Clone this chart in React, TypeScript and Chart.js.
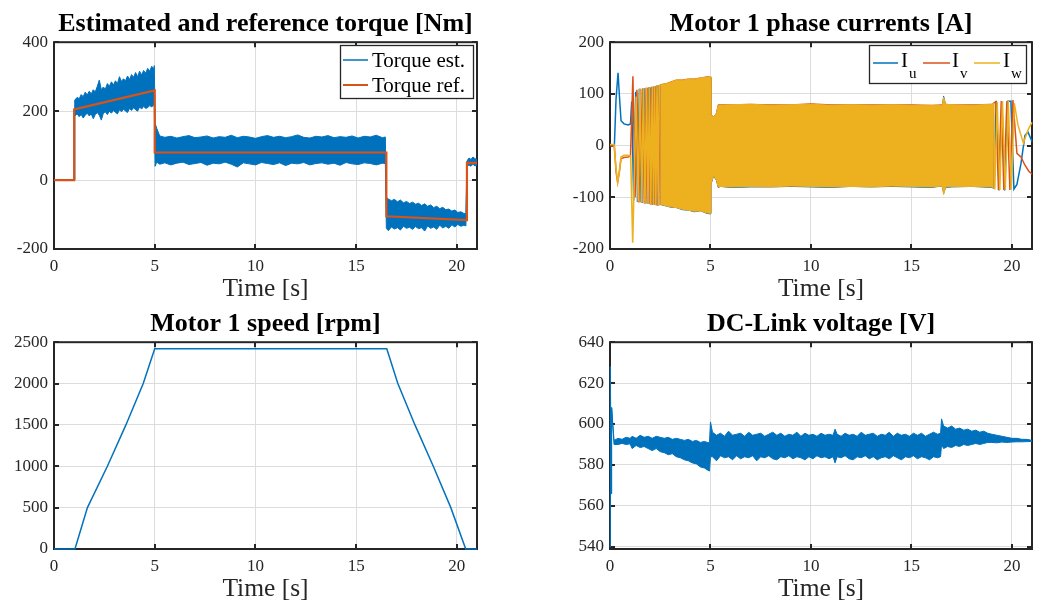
import React, { useEffect, useRef } from 'react';
import { Chart, registerables } from 'chart.js';

Chart.register(...registerables);

const FONT = "'Liberation Serif', 'Times New Roman', serif";
const BLUE = '#0072BD';
const ORANGE = '#D95319';
const YELLOW = '#EDB120';
const GRID = '#dcdcdc';
const AXIS = '#262626';

// ---------- common ----------
const xTicks = [0, 5, 10, 15, 20];
const xLabel = 'Time [s]';

// ---------- torque ----------
const torqueTitle = 'Estimated and reference torque [Nm]';
const torqueLegend = ['Torque est.', 'Torque ref.'];
const torqueTicks = [-200, 0, 200, 400];
const tTq = [0, 1.0,
  1.03, 1.15, 1.25, 1.35, 1.45, 1.55, 1.65, 1.75, 1.85, 1.95, 2.05, 2.15, 2.25, 2.35, 2.45, 2.55, 2.65, 2.75, 2.85, 2.95,
  3.05, 3.15, 3.25, 3.35, 3.45, 3.55, 3.65, 3.75, 3.85, 3.95, 4.05, 4.15, 4.25, 4.35, 4.45, 4.55, 4.65, 4.75, 4.85, 4.95, 4.98,
  5.02, 5.1, 5.25, 5.5, 5.8, 6.1, 6.4, 6.7, 7.0, 7.3, 7.6, 7.9, 8.2, 8.5, 8.8, 9.1, 9.4, 9.7, 10.0, 10.3, 10.6, 10.9,
  11.2, 11.5, 11.8, 12.1, 12.4, 12.7, 13.0, 13.3, 13.6, 13.9, 14.2, 14.5, 14.8, 15.1, 15.4, 15.7, 16.0, 16.3, 16.45,
  16.5, 16.6, 16.75, 16.9, 17.05, 17.2, 17.35, 17.5, 17.65, 17.8, 17.95, 18.1, 18.25, 18.4, 18.55, 18.7, 18.85, 19.0,
  19.15, 19.3, 19.45, 19.6, 19.75, 19.9, 20.05, 20.2, 20.35, 20.45,
  20.5, 20.6, 20.7, 20.8, 20.9, 21];
const tqEstUpper = [0, 0,
  232, 240, 236, 248, 242, 255, 247, 258, 250, 262, 256, 272, 290, 262, 270, 264, 280, 272, 285, 276,
  288, 280, 300, 286, 294, 288, 302, 292, 306, 298, 312, 300, 316, 305, 318, 310, 324, 316, 330, 322, 332,
  165, 150, 128, 124, 127, 122, 126, 129, 123, 125, 128, 122, 126, 124, 130, 123, 127, 125, 121, 126,
  129, 124, 127, 123, 126, 131, 124, 122, 127, 125, 129, 123, 126, 124, 128, 122, 127, 125, 130, 123, 125,
  -50, -55, -60, -56, -63, -58, -66, -62, -68, -64, -70, -67, -74, -69, -76, -72, -80, -76,
  -83, -79, -86, -84, -90, -87, -94, -92, -97, -98,
  55, 64, 60, 67, 62, 60];
const tqEstLower = [0, 0,
  186, 192, 184, 190, 180, 188, 194, 186, 192, 178, 190, 196, 188, 174, 194, 198, 190, 200, 194, 202,
  196, 192, 204, 198, 206, 200, 196, 208, 202, 210, 204, 200, 212, 206, 214, 208, 210, 216, 212, 218, 215,
  40, 52, 46, 50, 44, 49, 52, 45, 48, 51, 43, 49, 47, 52, 46, 38, 50, 47, 44, 51,
  48, 45, 50, 42, 49, 47, 51, 44, 48, 50, 46, 49, 43, 51, 47, 45, 50, 48, 44, 49, 48,
  -140, -147, -136, -142, -138, -145, -134, -140, -137, -143, -135, -141, -138, -148, -133, -140, -136, -143,
  -131, -139, -134, -140, -130, -136, -129, -134, -131, -133,
  38, 44, 40, 46, 41, 43];
const tRef = [0, 1.0, 1.0, 5.0, 5.0, 16.5, 16.5, 20.5, 20.5, 21];
const tqRef = [0, 0, 205, 260, 80, 80, -105, -116, 50, 50];

// ---------- phase currents ----------
const currentTitle = 'Motor 1 phase currents [A]';
const currentLegend = [['I', 'u'], ['I', 'v'], ['I', 'w']];
const currentTicks = [-200, -100, 0, 100, 200];
const tCur = [2.5, 2.8, 3.0, 3.3, 3.6, 3.9, 4.2, 4.5, 4.8, 4.98, 5.02, 5.15, 5.3, 5.38, 5.5, 6, 7, 8, 9, 10, 11, 12,
  13, 14, 15, 16, 16.55, 16.6, 16.7, 17, 18, 19, 19.1];
const iwUpper = [117, 120, 122, 127, 126, 129, 128, 131, 132, 133, 60, 55, 62, 78, 78, 79, 80, 78, 79, 80, 78, 79,
  78, 79, 78, 78, 78, 94, 80, 79, 78, 80, 82];
const iwLower = [-113, -117, -118, -120, -123, -125, -127, -126, -130, -131, -75, -58, -66, -80, -79, -80, -79, -80, -78, -79, -80, -79,
  -80, -78, -79, -80, -78, -95, -80, -79, -79, -80, -82];
const ivUpper = [118, 120, 123, 127, 127, 129, 129, 131, 133, 133, 61, 55, 63, 79, 79, 79, 80, 79, 79, 81, 79, 79,
  79, 79, 79, 78, 79, 90, 80, 79, 79, 80, 83];
const ivLower = [-112, -116, -118, -119, -122, -124, -126, -126, -129, -130, -74, -57, -66, -79, -78, -79, -78, -79, -78, -78, -79, -78,
  -79, -78, -78, -79, -78, -90, -79, -78, -78, -79, -81];
const iuUpper = [116, 119, 121, 126, 125, 128, 127, 130, 131, 132, 59, 54, 61, 77, 77, 78, 79, 77, 78, 79, 77, 78,
  77, 78, 77, 77, 77, 96, 79, 78, 77, 79, 81];
const iuLower = [-114, -117, -119, -120, -124, -125, -128, -126, -131, -132, -76, -59, -67, -81, -79, -81, -80, -80, -79, -80, -81, -79,
  -80, -79, -80, -81, -78, -93, -81, -80, -79, -81, -83];

const tIuStart = [0, 0.22, 0.3, 0.4, 0.47, 0.55, 0.7, 0.9, 1.02, 1.08, 1.18, 1.28, 1.37, 1.46, 1.55, 1.64, 1.72, 1.8, 1.87,
  1.94, 2.01, 2.08, 2.14, 2.2, 2.26, 2.32, 2.38, 2.44, 2.5];
const iuStart = [0, 2, 90, 141, 95, 48, 42, 40, 42, 85, -106, 104, -109, 110, -110, 111, -112, 112, -113,
  113, -114, 114, -115, 115, -115, 116, -116, 116, 116];
const tIvStart = [0, 0.22, 0.3, 0.38, 0.47, 0.55, 0.7, 0.9, 1.02, 1.14, 1.25, 1.34, 1.44, 1.53, 1.62, 1.7, 1.78, 1.86, 1.93,
  2.0, 2.07, 2.13, 2.19, 2.25, 2.31, 2.37, 2.43, 2.48, 2.5];
const ivStart = [0, -2, -50, -71, -50, -25, -23, -22, -20, 134, -100, 108, -110, 110, -111, 111, -112, 112, -113,
  113, -114, 114, -115, 115, -116, 116, -116, 116, 117];
const tIwStart = [0, 0.2, 0.3, 0.38, 0.47, 0.55, 0.7, 0.9, 1.03, 1.13, 1.22, 1.3, 1.4, 1.49, 1.58, 1.66, 1.74, 1.82, 1.89,
  1.96, 2.03, 2.1, 2.16, 2.22, 2.28, 2.34, 2.4, 2.45, 2.5];
const iwStart = [2, 2, -45, -70, -48, -22, -19, -19, -20, -188, -40, 95, -108, 110, -110, 111, -112, 112, -113,
  113, -114, 114, -115, 115, -115, 116, -116, 116, 117];

const tIuEnd = [19.1, 19.22, 19.36, 19.5, 19.64, 19.8, 19.95, 20.1, 20.25, 20.45, 20.65, 20.8, 21];
const iuEnd = [-82, 86, -87, 86, -87, 86, 86, -84, -75, -35, 20, 26, 8];
const tIvEnd = [19.1, 19.2, 19.33, 19.47, 19.6, 19.75, 19.9, 20.05, 20.25, 20.45, 20.65, 20.85, 21];
const ivEnd = [82, 85, -86, 86, -86, 86, -86, 88, -15, -22, -38, -50, -55];
const tIwEnd = [19.1, 19.15, 19.27, 19.4, 19.53, 19.67, 19.82, 19.97, 20.12, 20.3, 20.57, 20.82, 21];
const iwEnd = [82, -85, 85, -86, 86, -86, 86, -85, 82, 40, 5, 32, 45];

// ---------- speed ----------
const speedTitle = 'Motor 1 speed [rpm]';
const speedTicks = [0, 500, 1000, 1500, 2000, 2500];
const tSpd = [0, 1.04, 1.66, 2.65, 3.57, 4.43, 5.0, 16.52, 17.07, 17.92, 18.83, 19.7, 20.44, 21];
const speed = [0, 0, 500, 1000, 1500, 2000, 2420, 2420, 2000, 1500, 1000, 500, 0, 0];

// ---------- DC link ----------
const dcTitle = 'DC-Link voltage [V]';
const dcTicks = [540, 560, 580, 600, 620, 640];
const tDc = [0, 0.02, 0.05, 0.08, 0.2,
  0.4, 0.6, 0.8, 1.0, 1.1, 1.3, 1.5, 1.7, 1.9, 2.1, 2.3, 2.5, 2.7, 2.9, 3.1, 3.3, 3.5, 3.7, 3.9, 4.1, 4.3, 4.5, 4.7, 4.85, 4.95,
  5.0, 5.1, 5.3, 5.5, 5.7, 5.9, 6.1, 6.3, 6.5, 6.7, 6.9, 7.1, 7.3, 7.5, 7.7, 7.9, 8.1, 8.3, 8.5, 8.7, 8.9, 9.1, 9.3, 9.5,
  9.7, 9.9, 10.1, 10.3, 10.5, 10.7, 10.9, 11.1, 11.2, 11.3, 11.5, 11.7, 11.9, 12.1, 12.3, 12.5, 12.7, 12.9, 13.1, 13.3,
  13.5, 13.7, 13.9, 14.1, 14.3, 14.5, 14.7, 14.9, 15.1, 15.3, 15.5, 15.7, 15.9, 16.1, 16.3, 16.45,
  16.5, 16.6, 16.8, 17.0, 17.2, 17.4, 17.6, 17.8, 18.0, 18.2, 18.4, 18.6, 18.8, 19.0, 19.25, 19.5, 19.75, 20.0, 20.25,
  20.5, 20.75, 21];
const dcUpper = [540, 628, 566, 608, 592,
  593, 592.5, 593.5, 593, 594, 593, 594.5, 593.5, 594, 593, 594, 593.5, 593, 593.5, 592.5, 593, 592.5, 592, 592.5, 591.5,
  592, 591, 591.5, 591, 591,
  601, 596, 594.5, 595.5, 594, 596.5, 594.5, 595, 595.5, 594, 596, 594.5, 595, 595.5, 594, 595, 596, 594.5, 595.5, 594,
  595, 594.5, 596, 594, 595.5, 594.5, 595, 594, 595.5, 594.5, 595, 594.5, 597.5, 595, 594, 595.5, 594.5, 595, 594, 596,
  594.5, 595, 595.5, 594, 595, 594.5, 596, 594, 595.5, 594.5, 595, 594, 595.5, 594.5, 595.5, 594, 595, 596, 595, 595.5,
  602.5, 599, 598, 599, 597.5, 598, 597, 597.5, 596.5, 597, 596, 596.5, 595.5, 595, 594.5, 594, 593.5, 593, 593,
  592.5, 592.5, 592];
const dcLower = [540, 628, 566, 608, 590,
  590, 590.5, 590, 590.3, 588, 589.5, 588.5, 589, 588, 587, 588, 586.5, 586, 585, 585.5, 584, 583.5, 582.5, 582, 581,
  580.5, 579, 578.5, 577.5, 577,
  584, 584, 582, 584.5, 583.5, 584, 582.5, 584.5, 583, 584, 583.5, 584.5, 582, 584, 583.5, 584.5, 583, 582.5, 584, 583.5,
  584.5, 583, 584, 583.5, 582.5, 584, 583, 584.5, 583.5, 584, 583, 584, 581, 584, 583.5, 584.5, 583, 582.5, 584, 583.5,
  584.5, 583, 584, 582.5, 583.5, 584, 583, 584.5, 583.5, 582.5, 584, 583.5, 584.5, 583, 584, 583.5, 582.5, 584, 583.5, 584,
  590, 588, 589, 588.5, 589.5, 589, 590, 589.5, 590, 590.5, 590, 590.5, 591, 591, 590.8, 591.2, 591, 591.2, 591.3,
  591.3, 591.4, 591.5];

// ---------- helpers ----------
const xy = (t: number[], v: number[]) => t.map((x, i) => ({ x, y: v[i] }));

function ds(label: string, data: any[], color: string, width: number, fill: any = false) {
  return {
    label,
    data,
    borderColor: color,
    backgroundColor: color,
    borderWidth: width,
    pointRadius: 0,
    pointHoverRadius: 0,
    tension: 0,
    fill,
    clip: false as any,
  };
}

function xScale() {
  return {
    type: 'linear' as const,
    min: 0,
    max: 21,
    afterBuildTicks: (s: any) => { s.ticks = xTicks.map((value) => ({ value })); },
    afterFit: (s: any) => { s.height = 56; },
    ticks: {
      autoSkip: false, maxRotation: 0, padding: 7, color: AXIS,
      font: { family: FONT, size: 17 },
      callback: (v: any) => String(v),
    },
    grid: { color: GRID, lineWidth: 1, drawTicks: false },
    border: { display: false },
    title: { display: true, text: xLabel, color: AXIS, font: { family: FONT, size: 25.5 }, padding: { top: 0, bottom: 0 } },
  };
}

function yScale(min: number, max: number, ticks: number[], width: number) {
  return {
    type: 'linear' as const,
    min,
    max,
    afterBuildTicks: (s: any) => { s.ticks = ticks.map((value) => ({ value })); },
    afterFit: (s: any) => { s.width = width; },
    ticks: {
      autoSkip: false, padding: 6, color: AXIS,
      font: { family: FONT, size: 17 },
      callback: (v: any) => String(v),
    },
    grid: { color: GRID, lineWidth: 1, drawTicks: false },
    border: { display: false },
  };
}

const framePlugin = {
  id: 'mframe',
  beforeDatasetsDraw(chart: any) {
    const { ctx, chartArea: a, scales } = chart;
    ctx.save();
    ctx.strokeStyle = AXIS;
    ctx.lineWidth = 2;
    const tl = 5;
    ctx.beginPath();
    scales.x.ticks.forEach((t: any) => {
      const p = Math.round(scales.x.getPixelForValue(t.value));
      ctx.moveTo(p, a.bottom); ctx.lineTo(p, a.bottom - tl);
      ctx.moveTo(p, a.top); ctx.lineTo(p, a.top + tl);
    });
    scales.y.ticks.forEach((t: any) => {
      const p = Math.round(scales.y.getPixelForValue(t.value));
      ctx.moveTo(a.left, p); ctx.lineTo(a.left + tl, p);
      ctx.moveTo(a.right, p); ctx.lineTo(a.right - tl, p);
    });
    ctx.stroke();
    ctx.strokeRect(a.left, a.top, a.right - a.left, a.bottom - a.top);
    ctx.restore();
  },
  afterDraw(chart: any, _args: any, opts: any) {
    const lg = opts && opts.legend;
    if (!lg) return;
    const { ctx, chartArea: a } = chart;
    ctx.save();
    const x0 = Math.round(a.right - lg.right - lg.w);
    const y0 = Math.round(a.top + lg.top);
    ctx.fillStyle = '#ffffff';
    ctx.fillRect(x0, y0, lg.w, lg.h);
    ctx.strokeStyle = AXIS;
    ctx.lineWidth = 1.3;
    ctx.strokeRect(x0 + 0.5, y0 + 0.5, lg.w, lg.h);
    lg.items.forEach((it: any) => {
      ctx.strokeStyle = it.color;
      ctx.lineWidth = it.lw;
      ctx.beginPath();
      ctx.moveTo(x0 + it.lx, y0 + it.ly);
      ctx.lineTo(x0 + it.lx + it.ll, y0 + it.ly);
      ctx.stroke();
      ctx.fillStyle = '#000000';
      ctx.textAlign = 'left';
      ctx.textBaseline = 'alphabetic';
      ctx.font = `21px ${FONT}`;
      ctx.fillText(it.text, x0 + it.tx, y0 + it.ty);
      if (it.sub) {
        ctx.font = `15px ${FONT}`;
        ctx.fillText(it.sub, x0 + it.sx, y0 + it.sy);
      }
    });
    ctx.restore();
  },
};

function baseOptions(title: string, yMin: number, yMax: number, yTicks: number[], yWidth: number, padRight: number, legend: any) {
  return {
    responsive: false,
    animation: false as const,
    devicePixelRatio: 1,
    layout: { padding: { left: 0, right: padRight, top: 0, bottom: 0 } },
    scales: { x: xScale(), y: yScale(yMin, yMax, yTicks, yWidth) },
    plugins: {
      legend: { display: false },
      tooltip: { enabled: false },
      title: {
        display: true, text: title, fullSize: false, color: '#000000',
        font: { family: FONT, size: 26, weight: 'bold' as const },
        padding: { top: 9, bottom: 2 },
      },
      mframe: { legend },
    },
  };
}

function torqueConfig(): any {
  return {
    type: 'line',
    data: {
      datasets: [
        ds(torqueLegend[1], xy(tRef, tqRef), ORANGE, 2.2),
        ds(torqueLegend[0], xy(tTq, tqEstUpper), BLUE, 1),
        ds(torqueLegend[0] + ' lower', xy(tTq, tqEstLower), BLUE, 1, '-1'),
      ],
    },
    options: baseOptions(torqueTitle, -200, 400, torqueTicks, 54, 43, {
      right: 4, top: 3, w: 133, h: 53,
      items: [
        { color: BLUE, lw: 1.5, lx: 3, ly: 15, ll: 25, text: torqueLegend[0], tx: 32, ty: 21.5 },
        { color: ORANGE, lw: 2, lx: 3, ly: 40, ll: 25, text: torqueLegend[1], tx: 32, ty: 46.5 },
      ],
    }),
    plugins: [framePlugin],
  };
}

function currentConfig(): any {
  return {
    type: 'line',
    data: {
      datasets: [
        ds('Iw', xy(tCur, iwUpper), YELLOW, 1),
        ds('Iw lower', xy(tCur, iwLower), YELLOW, 1, '-1'),
        ds('Iw start', xy(tIwStart, iwStart), YELLOW, 1.6),
        ds('Iw end', xy(tIwEnd, iwEnd), YELLOW, 1.5),
        ds('Iv', xy(tCur, ivUpper), ORANGE, 1),
        ds('Iv lower', xy(tCur, ivLower), ORANGE, 1, '-1'),
        ds('Iv start', xy(tIvStart, ivStart), ORANGE, 1.5),
        ds('Iv end', xy(tIvEnd, ivEnd), ORANGE, 1.5),
        ds('Iu', xy(tCur, iuUpper), BLUE, 1),
        ds('Iu lower', xy(tCur, iuLower), BLUE, 1, '-1'),
        ds('Iu start', xy(tIuStart, iuStart), BLUE, 1.5),
        ds('Iu end', xy(tIuEnd, iuEnd), BLUE, 1.5),
      ],
    },
    options: baseOptions(currentTitle, -200, 200, currentTicks, 90, 8, {
      right: 6, top: 3, w: 157, h: 38,
      items: [
        { color: BLUE, lw: 1.5, lx: 4, ly: 18, ll: 25, text: currentLegend[0][0], sub: currentLegend[0][1], tx: 32, ty: 22, sx: 40, sy: 33 },
        { color: ORANGE, lw: 1.5, lx: 54, ly: 18, ll: 27, text: currentLegend[1][0], sub: currentLegend[1][1], tx: 83, ty: 22, sx: 91, sy: 33 },
        { color: YELLOW, lw: 1.5, lx: 105, ly: 18, ll: 26, text: currentLegend[2][0], sub: currentLegend[2][1], tx: 134, ty: 22, sx: 142, sy: 33 },
      ],
    }),
    plugins: [framePlugin],
  };
}

function speedConfig(): any {
  return {
    type: 'line',
    data: { datasets: [ds('Speed', xy(tSpd, speed), BLUE, 1.5)] },
    options: baseOptions(speedTitle, 0, 2500, speedTicks, 54, 43, null),
    plugins: [framePlugin],
  };
}

function dcConfig(): any {
  return {
    type: 'line',
    data: {
      datasets: [
        ds('Udc', xy(tDc, dcUpper), BLUE, 1),
        ds('Udc lower', xy(tDc, dcLower), BLUE, 1, '-1'),
      ],
    },
    options: baseOptions(dcTitle, 538.9, 640, dcTicks, 90, 8, null),
    plugins: [framePlugin],
  };
}

function Panel({ left, top, build }: { left: number; top: number; build: () => any }) {
  const ref = useRef<HTMLCanvasElement>(null);
  useEffect(() => {
    const chart = new Chart(ref.current as HTMLCanvasElement, build());
    return () => chart.destroy();
  }, []);
  return (
    <canvas
      ref={ref}
      width={520}
      height={305}
      style={{ position: 'absolute', left, top, width: 520, height: 305 }}
    />
  );
}

export default function App() {
  return (
    <div style={{ position: 'absolute', left: 0, top: 0, width: 1040, height: 605, background: '#ffffff', overflow: 'hidden' }}>
      <Panel left={0} top={0} build={torqueConfig} />
      <Panel left={520} top={0} build={currentConfig} />
      <Panel left={0} top={300} build={speedConfig} />
      <Panel left={520} top={300} build={dcConfig} />
    </div>
  );
}
